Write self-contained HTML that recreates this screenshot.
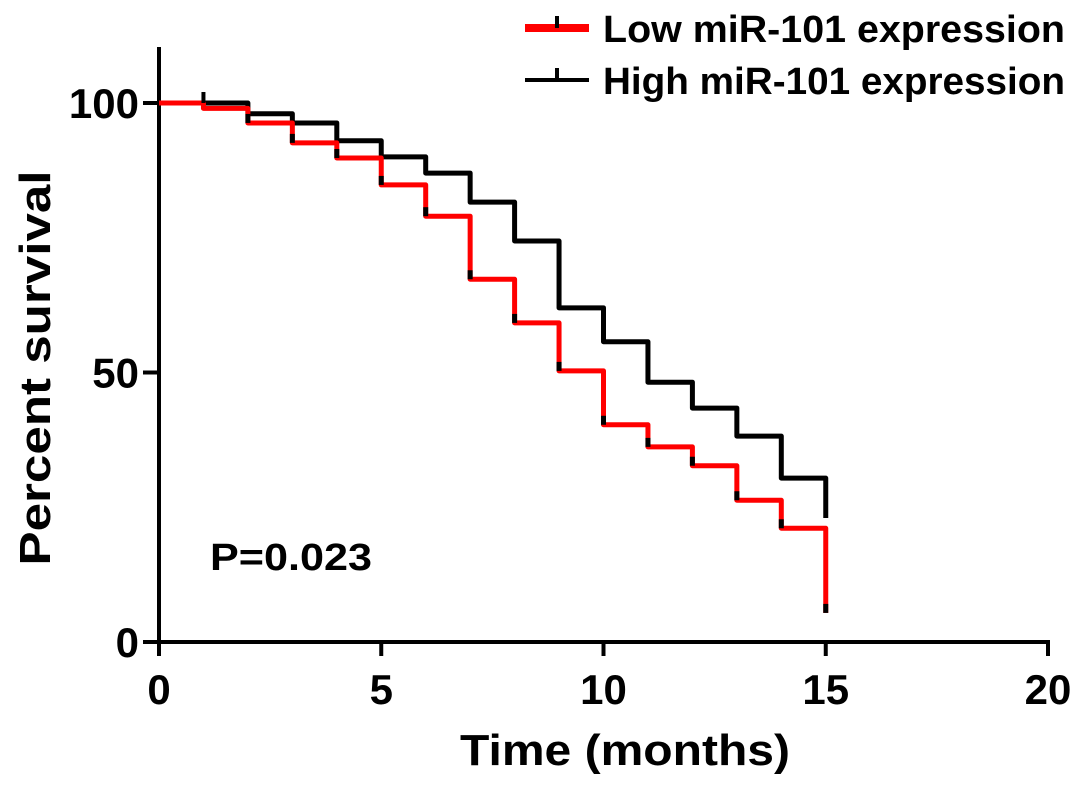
<!DOCTYPE html>
<html><head><meta charset="utf-8"><style>
html,body{margin:0;padding:0;background:#fff;}
svg{display:block;font-family:"Liberation Sans",Arial,sans-serif;font-weight:bold;}
</style></head><body>
<svg id="chart" width="1087" height="793" viewBox="0 0 1087 793">
<g id="axes"></g>
<g id="series"></g>
<g>
  <g>
    <line x1="525" y1="28" x2="589" y2="28" stroke="#ff0000" stroke-width="8"/>
    <line x1="557" y1="16" x2="557" y2="28" stroke="#000" stroke-width="4"/>
    <text x="603" y="42" font-size="38" textLength="462" lengthAdjust="spacingAndGlyphs">Low miR-101 expression</text>
  </g>
  <g>
    <line x1="525" y1="80" x2="589" y2="80" stroke="#000" stroke-width="4"/>
    <line x1="557" y1="68" x2="557" y2="80" stroke="#000" stroke-width="4"/>
    <text x="603" y="94" font-size="38" textLength="462" lengthAdjust="spacingAndGlyphs">High miR-101 expression</text>
  </g>
</g>
<text transform="translate(50,368) rotate(-90)" text-anchor="middle" font-size="44" textLength="395" lengthAdjust="spacingAndGlyphs">Percent survival</text>
<text x="625" y="765" text-anchor="middle" font-size="44" textLength="330" lengthAdjust="spacingAndGlyphs">Time (months)</text>
<text x="210" y="570" font-size="38" textLength="162" lengthAdjust="spacingAndGlyphs">P=0.023</text>
</svg>
<script>
const timesLow = [0,1,2,3,4,5,6,7,8,9,10,11,12,13,14,15];
const survLow  = [100,99,96.3,92.6,89.8,84.8,79,67.3,59.2,50.3,40.3,36.2,32.7,26.3,21.1,5.4];
const timesHigh = [0,1,2,3,4,5,6,7,8,9,10,11,12,13,14,15];
const survHigh  = [100,100,98,96.3,93,90,87,81.6,74.4,62,55.7,48.2,43.4,38.2,30.4,23];
const xTicks = [0,5,10,15,20];
const yTicks = [0,50,100];

const NS="http://www.w3.org/2000/svg";
const X0=159,X1=1048,Y0=642,Y100=103;
const xs=t=>X0+(X1-X0)*t/20;
const ys=v=>Y0-(Y0-Y100)*v/100;
function mk(tag,attrs,parent){const e=document.createElementNS(NS,tag);for(const k in attrs)e.setAttribute(k,attrs[k]);parent.appendChild(e);return e;}
const axes=document.getElementById('axes');
let ya=mk('line',{x1:X0,y1:47,x2:X0,y2:Y0+2,stroke:'#000','stroke-width':4},axes);


let xa=mk('line',{x1:X0-2,y1:Y0,x2:X1+2,y2:Y0,stroke:'#000','stroke-width':4},axes);


yTicks.forEach(v=>{
  mk('line',{x1:X0-16,y1:ys(v),x2:X0,y2:ys(v),stroke:'#000','stroke-width':4},axes);
  const t=mk('text',{x:X0-20,y:ys(v)+15,'text-anchor':'end','font-size':42},axes);
  t.textContent=v;
  
  
});
xTicks.forEach(v=>{
  mk('line',{x1:xs(v),y1:Y0,x2:xs(v),y2:Y0+14,stroke:'#000','stroke-width':4},axes);
  const t=mk('text',{x:xs(v),y:704,'text-anchor':'middle','font-size':42},axes);
  t.textContent=v;
  
  
});
const ser=document.getElementById('series');
function stepPath(ts,vs){
  let d='M'+xs(ts[0])+','+ys(vs[0]);
  for(let i=1;i<ts.length;i++){d+=' H'+xs(ts[i])+' V'+ys(vs[i]);}
  return d;
}
let ph=mk('path',{d:stepPath(timesHigh,survHigh),fill:'none',stroke:'#000','stroke-width':5,'stroke-linejoin':'round'},ser);


let pl=mk('path',{d:stepPath(timesLow,survLow),fill:'none',stroke:'#ff0000','stroke-width':5,'stroke-linejoin':'round'},ser);


// censor marks
for(let i=2;i<timesLow.length;i++){
  const m=mk('line',{x1:xs(timesLow[i]),y1:ys(survLow[i]),x2:xs(timesLow[i]),y2:ys(survLow[i])-9,stroke:'#000','stroke-width':5},ser);
  
  
}
const c=mk('line',{x1:xs(1),y1:ys(survHigh[1]),x2:xs(1),y2:ys(survHigh[1])-11,stroke:'#000','stroke-width':4},ser);


</script>
</body></html>
